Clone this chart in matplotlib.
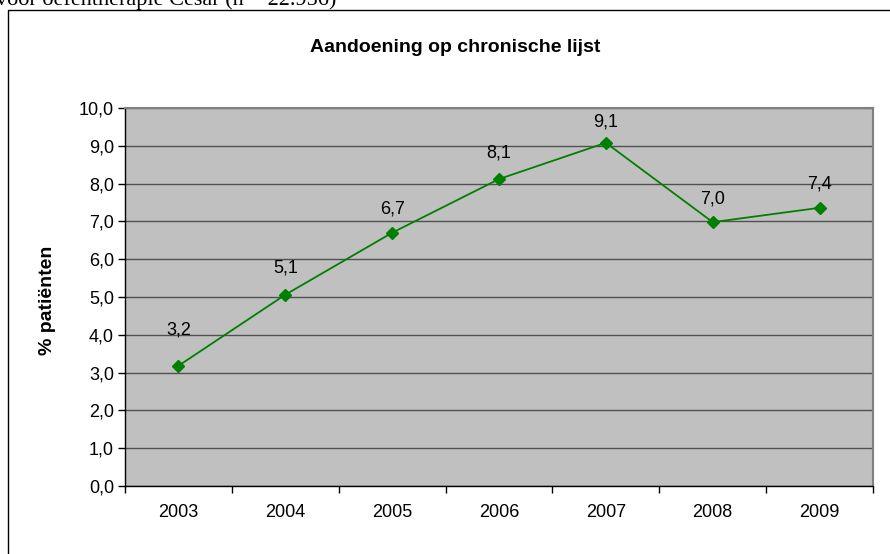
import numpy as np
import matplotlib.pyplot as plt
from matplotlib.patches import Rectangle

# Data
years = ['2003', '2004', '2005', '2006', '2007', '2008', '2009']
pct = [3.18, 5.06, 6.70, 8.12, 9.08, 6.98, 7.36]
label_offset = [26, 19, 17, 19, 15, 17, 17]  # points above marker

W, H = 890, 554
fig = plt.figure(figsize=(W / 100, H / 100), dpi=100)
plt.rcParams['font.family'] = ['Liberation Sans', 'DejaVu Sans']

# Outer chart frame (cut off at right and bottom)
fig.patches.append(Rectangle((8 / W, -0.1), 2.0, 1 - 10 / H + 0.1,
                             transform=fig.transFigure, fill=False,
                             edgecolor='black', linewidth=1.0))

# Cut-off caption above the chart
fig.text(-0.004, 1 - 5 / H, 'voor oefentherapie Cesar (n = 22.956)',
         family=['Liberation Serif'], fontsize=16, va='baseline', ha='left')

left, right, top, bottom = 125, 873, 108, 486
ax = fig.add_axes([left / W, 1 - bottom / H, (right - left) / W, (bottom - top) / H])
ax.set_facecolor('#C0C0C0')

x = np.arange(len(years))
ax.plot(x, pct, color='#008000', linewidth=1.3, marker='D', markersize=6.5,
        markerfacecolor='#008000', markeredgecolor='#008000', zorder=3)

for xi, v, off in zip(x, pct, label_offset):
    ax.annotate(f'{v:.1f}'.replace('.', ','), (xi, v), xytext=(0, off),
                textcoords='offset points', ha='center', va='center', fontsize=13)

ax.set_xlim(-0.5, len(years) - 0.5)
ax.set_ylim(0, 10)
ax.set_yticks(np.arange(0, 11, 1))
ax.set_yticklabels([f'{t:.1f}'.replace('.', ',') for t in np.arange(0, 11, 1)], fontsize=13)
ax.set_xticks(x)
ax.set_xticklabels(years, fontsize=13)
ax.set_xticks(np.arange(-0.5, len(years), 1), minor=True)
ax.tick_params(axis='x', which='major', length=0, pad=13)
ax.tick_params(axis='x', which='minor', length=5, direction='out', width=1)
ax.tick_params(axis='y', length=5, direction='out', width=1, pad=3)

ax.grid(axis='y', color='#505050', linewidth=1.0)
ax.set_axisbelow(True)

for side in ['left', 'bottom']:
    ax.spines[side].set_color('black')
    ax.spines[side].set_linewidth(1.0)
for side in ['top', 'right']:
    ax.spines[side].set_color('#808080')
    ax.spines[side].set_linewidth(1.5)

fig.text(455 / W, 1 - 47 / H, 'Aandoening op chronische lijst', ha='center',
         va='center', fontsize=14, fontweight='bold')
fig.text(47 / W, 1 - 300 / H, '% patiënten', ha='center', va='center',
         rotation=90, fontsize=14, fontweight='bold')

fig.savefig('out.png', dpi=100)
